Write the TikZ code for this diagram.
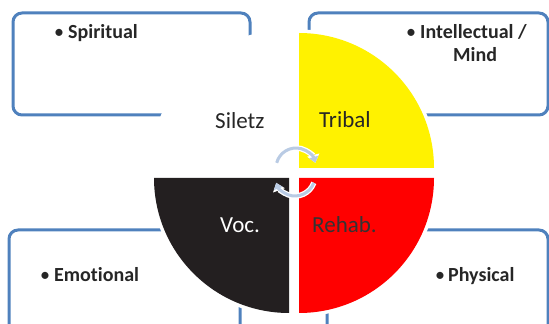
\documentclass[tikz,border=0pt]{standalone}
\usepackage{fontspec}
\setmainfont{Carlito}[Ligatures=NoCommon]
\usetikzlibrary{arrows.meta}
\definecolor{boxblue}{RGB}{79,129,189}
\definecolor{turnblue}{RGB}{185,203,228}
\definecolor{vocblack}{RGB}{35,31,32}
\newcommand{\dotitem}[1]{\makebox[#1][l]{\mdseries\textbullet}}
\begin{document}
\begin{tikzpicture}[x=1pt,y=1pt,
    frame/.style={draw=boxblue,line width=3pt,rounded corners=9pt},
    item/.style={anchor=base west,inner sep=0pt,text=black!85,
      font=\fontsize{20}{24}\selectfont\bfseries},
    part/.style={anchor=base west,inner sep=0pt,
      font=\fontsize{23}{27}\selectfont},
    turnhalo/.style={draw=white,line width=5.5pt,-{Triangle[width=12pt,length=8pt]}},
    turn/.style={draw=turnblue,line width=3pt,-{Triangle[width=9pt,length=6pt]}}]
    \useasboundingbox (0,0) rectangle (549,324);
    %% boxes
    \draw[frame] (13,311) rectangle (250,209);
    \draw[frame] (309,311) rectangle (548,209);
    \draw[frame] (9,94) rectangle (240,-30);
    \draw[frame] (327,94) rectangle (548,-30);
    %% white halo round the quarters
    \fill[white] (289,156) -- ++(180:138.5) arc[start angle=180,end angle=90,radius=138.5] -- cycle;
    \fill[white] (299,156) -- ++(90:138.5) arc[start angle=90,end angle=0,radius=138.5] -- cycle;
    \fill[white] (299,146) -- ++(0:138.5) arc[start angle=0,end angle=-90,radius=138.5] -- cycle;
    \fill[white] (289,146) -- ++(270:138.5) arc[start angle=270,end angle=180,radius=138.5] -- cycle;
    %% quarters
    \fill[yellow] (299,156) -- ++(0:135) arc[start angle=0,end angle=90,radius=135] -- cycle;
    \fill[red] (299,146) -- ++(270:135) arc[start angle=270,end angle=360,radius=135] -- cycle;
    \fill[vocblack] (289,146) -- ++(180:135) arc[start angle=180,end angle=270,radius=135] -- cycle;
    %% turning arrows
    \draw[turnhalo] (296,156) ++(165:20) arc[start angle=165,end angle=15,radius=20];
    \draw[turn] (296,156) ++(165:20) arc[start angle=165,end angle=15,radius=20];
    \draw[turnhalo] (295,148) ++(-20:20) arc[start angle=-20,end angle=-160,radius=20];
    \draw[turn] (295,148) ++(-20:20) arc[start angle=-20,end angle=-160,radius=20];
    %% labels
    \node[part,text=black!85] (siletz) at (215,195) {Siletz};
    \node[part,text=black!85] (tribal) at (319,196) {Tribal};
    \node[part,text=white] (voc) at (220,91) {Voc.};
    \node[part,text=black!80] (rehab) at (312,91) {Rehab.};
    \node[item] (spiritual) at (54,285) {\dotitem{14pt}Spiritual};
    \node[item] (intellect) at (406,285) {\dotitem{14pt}Intellectual /};
    \node[item] (mind) at (453,262) {Mind};
    \node[item] (emotional) at (40,42) {\dotitem{14pt}Emotional};
    \node[item] (physical) at (435,42) {\dotitem{13pt}Physical};
\end{tikzpicture}
\end{document}
